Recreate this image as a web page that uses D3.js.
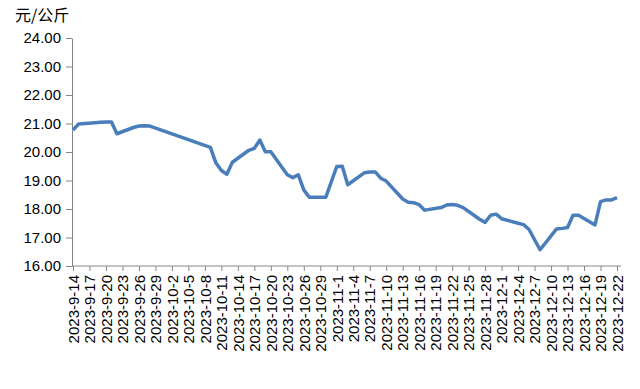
<!DOCTYPE html>
<html>
<head>
<meta charset="utf-8">
<script src="https://cdn.jsdelivr.net/npm/d3@7"></script>
<style>
  body { margin: 0; background: #fff; }
  svg { display: block; }
</style>
</head>
<body>
<svg width="640" height="389"></svg>
<script>
// trading days and price (元/公斤)
const dates = [
  "2023-09-14","2023-09-15","2023-09-18","2023-09-19","2023-09-20","2023-09-21","2023-09-22",
  "2023-09-25","2023-09-26","2023-09-27","2023-09-28",
  "2023-10-09","2023-10-10","2023-10-11","2023-10-12","2023-10-13",
  "2023-10-16","2023-10-17","2023-10-18","2023-10-19","2023-10-20",
  "2023-10-23","2023-10-24","2023-10-25","2023-10-26","2023-10-27",
  "2023-10-30","2023-10-31","2023-11-01","2023-11-02","2023-11-03",
  "2023-11-06","2023-11-07","2023-11-08","2023-11-09","2023-11-10",
  "2023-11-13","2023-11-14","2023-11-15","2023-11-16","2023-11-17",
  "2023-11-20","2023-11-21","2023-11-22","2023-11-23","2023-11-24",
  "2023-11-27","2023-11-28","2023-11-29","2023-11-30","2023-12-01",
  "2023-12-04","2023-12-05","2023-12-06","2023-12-07","2023-12-08",
  "2023-12-11","2023-12-12","2023-12-13","2023-12-14","2023-12-15",
  "2023-12-18","2023-12-19","2023-12-20","2023-12-21","2023-12-22"
];
const prices = [
  20.77, 20.98, 21.03, 21.04, 21.05, 21.05, 20.64,
  20.86, 20.91, 20.92, 20.91,
  20.16, 19.62, 19.35, 19.22, 19.64,
  20.06, 20.13, 20.42, 20.01, 20.01,
  19.20, 19.10, 19.20, 18.67, 18.41,
  18.41, 18.95, 19.49, 19.50, 18.85,
  19.27, 19.30, 19.30, 19.08, 18.98,
  18.35, 18.24, 18.22, 18.15, 17.96,
  18.05, 18.14, 18.16, 18.13, 18.05,
  17.64, 17.53, 17.78, 17.82, 17.66,
  17.50, 17.45, 17.28, 16.92, 16.57,
  17.30, 17.32, 17.35, 17.78, 17.78,
  17.44, 18.26, 18.32, 18.32, 18.40
];
const yTicks = [16, 17, 18, 19, 20, 21, 22, 23, 24];
const unitLabel = "元/公斤";

const parse = d3.timeParse("%Y-%m-%d");
const data = dates.map((d, i) => ({date: parse(d), value: prices[i]}));

const svg = d3.select("svg");
const mLeft = 73, mRight = 617, mTop = 38, mBottom = 266;

const x = d3.scaleTime()
  .domain([parse("2023-09-14"), parse("2023-12-22")])
  .range([mLeft, mRight]);
const y = d3.scaleLinear().domain([16, 24]).range([mBottom, mTop]);

const axisColor = "#868686";
const font = "'Liberation Sans', Arial, sans-serif";

// y axis
const yAxis = svg.append("g")
  .attr("transform", `translate(${mLeft - 1},0)`)
  .call(d3.axisLeft(y).tickValues(yTicks).tickFormat(d3.format(".2f")).tickSize(6).tickSizeOuter(0).tickPadding(5));
yAxis.select(".domain").attr("stroke", axisColor);
yAxis.selectAll(".tick line").attr("stroke", axisColor);
yAxis.selectAll("text").attr("fill", "#000").style("font", `15px ${font}`);

// x axis, tick every 3 days
const xTicks = d3.timeDay.range(parse("2023-09-14"), d3.timeDay.offset(parse("2023-12-22"), 1), 3);
const fmt = d => `${d.getFullYear()}-${d.getMonth() + 1}-${d.getDate()}`;
const xAxis = svg.append("g")
  .attr("transform", `translate(0,${mBottom})`)
  .call(d3.axisBottom(x).tickValues(xTicks).tickFormat(fmt).tickSize(5).tickSizeOuter(0));
xAxis.select(".domain").remove();
xAxis.append("line")
  .attr("x1", mLeft - 1).attr("x2", mRight + 4)
  .attr("stroke", axisColor);
xAxis.selectAll(".tick line").attr("stroke", axisColor);
xAxis.selectAll("text")
  .attr("transform", "rotate(-90)")
  .attr("x", -9).attr("y", 0).attr("dy", "0.35em")
  .attr("text-anchor", "end")
  .attr("fill", "#000")
  .style("font", `15px ${font}`);

// unit label
svg.append("text")
  .attr("x", 15).attr("y", 21)
  .style("font", "16px 'Noto Sans CJK SC', sans-serif")
  .attr("fill", "#000")
  .text(unitLabel);

// line
const line = d3.line().x(d => x(d.date)).y(d => y(d.value));
svg.append("path")
  .datum(data)
  .attr("fill", "none")
  .attr("stroke", "#4a7ebb")
  .attr("stroke-width", 3.5)
  .attr("stroke-linejoin", "round")
  .attr("d", line);
</script>
</body>
</html>
